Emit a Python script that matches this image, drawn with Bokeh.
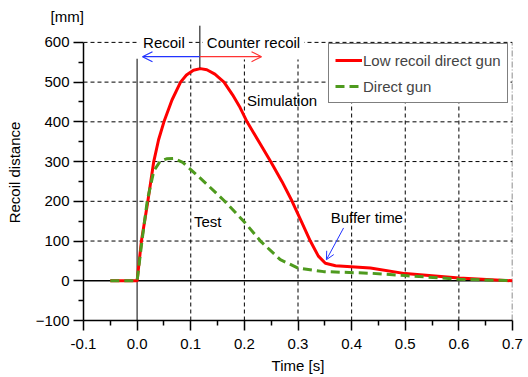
from bokeh.plotting import figure
from bokeh.models import (Range1d, Label, Arrow, OpenHead, FixedTicker, PrintfTickFormatter,
                          Legend, LegendItem)
from bokeh.embed import file_html
from bokeh.resources import INLINE

# ---- data ----
t_sim = [-0.05, 0.0, 0.008, 0.02, 0.031, 0.04, 0.05, 0.065, 0.081, 0.092, 0.105, 0.118, 0.13,
         0.145, 0.162, 0.178, 0.192, 0.205, 0.228, 0.249, 0.27, 0.289, 0.306, 0.323, 0.338,
         0.351, 0.37, 0.435, 0.5, 0.6, 0.7]
v_sim = [0, 0, 100, 200, 300, 355, 400, 455, 500, 518, 530, 534, 531,
         520, 500, 468, 436, 400, 348, 300, 250, 200, 150, 100, 62,
         44, 38, 32, 18, 7, 0]

t_test = [-0.05, 0.0, 0.009, 0.019, 0.031, 0.043, 0.055, 0.068, 0.085, 0.1, 0.13, 0.162,
          0.2, 0.23, 0.267, 0.3, 0.348, 0.435, 0.5, 0.6, 0.7]
v_test = [0, 0, 100, 202, 276, 301, 307, 308, 298, 280, 243, 202,
          148, 100, 53, 32, 23, 19, 13, 4, 0]

x_ticks = [-0.1, 0.0, 0.1, 0.2, 0.3, 0.4, 0.5, 0.6, 0.7]
y_ticks = [-100, 0, 100, 200, 300, 400, 500, 600]
x_minor = [-0.05, 0.05, 0.15, 0.25, 0.35, 0.45, 0.55, 0.65]
y_minor = [-50, 50, 150, 250, 350, 450, 550]

FONT = "Liberation Sans"

p = figure(width=528, height=377, output_backend="svg", toolbar_location=None,
           x_range=Range1d(-0.1, 0.7), y_range=Range1d(-100, 645),
           min_border_left=83, min_border_right=16, min_border_top=24, min_border_bottom=57)
p.outline_line_color = None
p.xgrid.visible = False
p.ygrid.visible = False
p.background_fill_color = "white"
p.border_fill_color = "white"

p.title.text = "[mm]"
p.title.align = "left"
p.title.offset = -33
p.title.standoff = 0
p.title.text_font = FONT
p.title.text_font_size = "15px"
p.title.text_font_style = "normal"
p.title.text_color = "black"

# ---- axes ----
for ax in (p.xaxis[0], p.yaxis[0]):
    ax.axis_line_color = "black"
    ax.axis_line_width = 1.5
    ax.major_tick_line_color = "black"
    ax.major_tick_line_width = 1.5
    ax.minor_tick_line_color = "black"
    ax.minor_tick_line_width = 1.5
    ax.major_tick_out = 10
    ax.major_tick_in = 0
    ax.minor_tick_out = 5
    ax.minor_tick_in = 0
    ax.major_label_text_font = FONT
    ax.major_label_text_font_size = "15px"
    ax.major_label_text_color = "black"
    ax.axis_label_text_font = FONT
    ax.axis_label_text_font_size = "15px"
    ax.axis_label_text_font_style = "normal"
    ax.axis_label_text_color = "black"

p.yaxis.bounds = (-100, 600)
p.xaxis.ticker = FixedTicker(ticks=x_ticks, minor_ticks=x_minor)
p.yaxis.ticker = FixedTicker(ticks=y_ticks, minor_ticks=y_minor)
p.xaxis.formatter = PrintfTickFormatter(format="%.1f")
p.xaxis.axis_label = "Time [s]"
p.yaxis.axis_label = "Recoil distance"
p.xaxis.major_label_standoff = 8
p.xaxis.axis_label_standoff = 5
p.yaxis.major_label_standoff = 4
p.yaxis.axis_label_standoff = 10

# ---- grid lines (manual) ----
gx = [x for x in x_ticks if x > 0.05 and x < 0.65]
gx_top = [557 if x < 0.35 else 600 for x in gx]
p.segment(x0=gx, x1=gx, y0=[-100] * len(gx), y1=gx_top, line_color="black",
          line_width=1, line_dash="4 3")
p.segment(x0=[0.7], x1=[0.7], y0=[-100], y1=[600], line_color="#666666",
          line_width=1.5, line_dash="6 2 1 2")
gy = [y for y in y_ticks if y > 50]
p.segment(x0=[-0.1] * len(gy), x1=[0.7] * len(gy), y0=gy, y1=gy, line_color="black",
          line_width=1, line_dash="4 3")
p.segment(x0=[-0.1], x1=[0.7], y0=[0], y1=[0], line_color="black", line_width=1.5)
p.segment(x0=[0.0], x1=[0.0], y0=[-100], y1=[559], line_color="#555555", line_width=1.5)

# ---- data lines ----
r_sim = p.line(t_sim, v_sim, line_color="#ff0000", line_width=3)
r_test = p.line(t_test, v_test, line_color="#4e9a1e", line_width=3, line_dash="9 5")

legend = Legend(items=[LegendItem(label="Low recoil direct gun", renderers=[r_sim]),
                       LegendItem(label="Direct gun", renderers=[r_test])],
                location=(245, 217), margin=0, padding=6, spacing=6,
                glyph_width=27, glyph_height=20, label_height=20, label_standoff=1,
                label_text_font=FONT, label_text_font_size="15px",
                border_line_color="black", border_line_width=1.5,
                background_fill_color="white", background_fill_alpha=1.0)
p.add_layout(legend)

# ---- annotations ----
lbl_kw = dict(text_font=FONT, text_font_size="15px", text_color="black")
p.add_layout(Label(x=0.05, y=600, text="Recoil", text_align="center", text_baseline="middle",
                   background_fill_color="white", padding=4, **lbl_kw))
p.add_layout(Label(x=0.217, y=600, text="Counter recoil", text_align="center",
                   text_baseline="middle", background_fill_color="white", padding=4, **lbl_kw))
p.add_layout(Arrow(end=None, x_start=0.117, y_start=642, x_end=0.117, y_end=536,
                   line_color="black", line_width=1))
p.add_layout(Arrow(end=OpenHead(size=10, line_color="#2233ff", line_width=1.2),
                   x_start=0.117, y_start=564, x_end=0.01, y_end=564,
                   line_color="#2233ff", line_width=1.2))
p.add_layout(Arrow(end=OpenHead(size=10, line_color="#ff3333", line_width=1.2),
                   x_start=0.117, y_start=564, x_end=0.232, y_end=564,
                   line_color="#ff3333", line_width=1.2))
p.add_layout(Label(x=0.205, y=453, text="Simulation", text_align="left",
                   text_baseline="middle", **lbl_kw))
p.add_layout(Label(x=0.106, y=150, text="Test", text_align="left",
                   text_baseline="middle", **lbl_kw))
p.add_layout(Label(x=0.361, y=160, text="Buffer time", text_align="left",
                   text_baseline="middle", **lbl_kw))
p.add_layout(Arrow(end=OpenHead(size=8, line_color="#2233ff", line_width=1),
                   x_start=0.385, y_start=133, x_end=0.353, y_end=53,
                   line_color="#2233ff", line_width=1))

open("out.html", "w").write(file_html(p, INLINE))
